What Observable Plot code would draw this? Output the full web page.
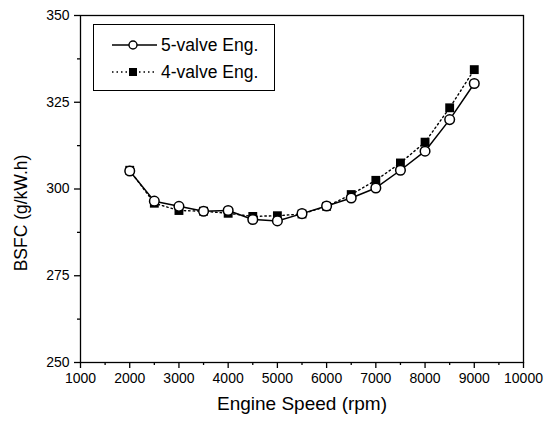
<!DOCTYPE html>
<html>
<head>
<meta charset="utf-8">
<script src="https://cdn.jsdelivr.net/npm/d3@7"></script>
<script src="https://cdn.jsdelivr.net/npm/@observablehq/plot@0.6"></script>
<style>
  html, body { margin: 0; padding: 0; background: #fff; }
  #wrap { position: relative; width: 551px; height: 423px; font-family: "Liberation Sans", Arial, sans-serif; }
  #legend { position: absolute; left: 93px; top: 24px; width: 182px; height: 67px; border: 1.3px solid #000; background: #fff; box-sizing: border-box; }
  .row { position: absolute; left: 0; height: 20px; display: flex; align-items: center; font-size: 17.5px; color: #000; white-space: nowrap; }
  .row svg { margin-left: 18px; margin-right: 4px; }
</style>
</head>
<body>
<div id="wrap"></div>
<script>
const speeds = [2000, 2500, 3000, 3500, 4000, 4500, 5000, 5500, 6000, 6500, 7000, 7500, 8000, 8500, 9000];
const fiveValve = [305.2, 296.5, 295.0, 293.6, 293.8, 291.2, 290.8, 292.9, 295.1, 297.4, 300.3, 305.4, 310.9, 320.0, 330.4];
const fourValve = [305.4, 295.9, 293.8, 293.6, 293.0, 292.1, 292.3, 292.8, 295.0, 298.4, 302.5, 307.5, 313.5, 323.4, 334.4];
const seriesNames = ["5-valve Eng.", "4-valve Eng."];
const xTicks = [1000, 2000, 3000, 4000, 5000, 6000, 7000, 8000, 9000, 10000];
const xMinor = [1500, 2500, 3500, 4500, 5500, 6500, 7500, 8500, 9500];
const yTicks = [250, 275, 300, 325, 350];
const yMinor = [262.5, 287.5, 312.5, 337.5];
const xLabel = "Engine Speed (rpm)";
const yLabel = "BSFC (g/kW.h)";

const d5 = speeds.map((s, i) => ({speed: s, bsfc: fiveValve[i]}));
const d4 = speeds.map((s, i) => ({speed: s, bsfc: fourValve[i]}));

const chart = Plot.plot({
  width: 551,
  height: 423,
  marginLeft: 80,
  marginRight: 28,
  marginTop: 15,
  marginBottom: 61,
  style: {fontFamily: "'Liberation Sans', Arial, sans-serif", fontSize: "14px", color: "#000", background: "#fff"},
  x: {domain: [1000, 10000]},
  y: {domain: [250, 350]},
  marks: [
    Plot.frame({stroke: "#000", strokeWidth: 1.3}),
    Plot.axisX({ticks: xTicks, tickFormat: d => String(d), tickSize: 6, tickPadding: 5, label: null, fontSize: 14, strokeWidth: 1.3}),
    Plot.axisX({ticks: xMinor, tickFormat: () => "", tickSize: 3, label: null, strokeWidth: 1.3}),
    Plot.axisY({ticks: yTicks, tickFormat: d => String(d), tickSize: 6, tickPadding: 5, label: null, fontSize: 14, strokeWidth: 1.3}),
    Plot.axisY({ticks: yMinor, tickFormat: () => "", tickSize: 3, label: null, strokeWidth: 1.3}),
    Plot.text([xLabel], {frameAnchor: "bottom", textAnchor: "middle", dy: 47, fontSize: 19, text: d => d, fill: "#000"}),
    Plot.text([yLabel], {frameAnchor: "left", textAnchor: "middle", dx: -59, dy: 24, rotate: -90, fontSize: 17.5, text: d => d, fill: "#000"}),
    Plot.line(d4, {x: "speed", y: "bsfc", stroke: "#000", strokeWidth: 1.4, strokeDasharray: "1.5,3"}),
    Plot.dot(d4, {x: "speed", y: "bsfc", symbol: "square", r: 5, fill: "#000", stroke: "none"}),
    Plot.line(d5, {x: "speed", y: "bsfc", stroke: "#000", strokeWidth: 1.5}),
    Plot.dot(d5, {x: "speed", y: "bsfc", symbol: "circle", r: 4.8, fill: "#fff", stroke: "#000", strokeWidth: 1.5})
  ]
});

const wrap = document.getElementById("wrap");
wrap.appendChild(chart);

const legend = document.createElement("div");
legend.id = "legend";
legend.innerHTML = `
  <div class="row" style="top:10px">
    <svg width="45" height="12"><line x1="0" y1="6" x2="45" y2="6" stroke="#000" stroke-width="1.5"/><circle cx="21" cy="6" r="4" fill="#fff" stroke="#000" stroke-width="1.4"/></svg>${seriesNames[0]}
  </div>
  <div class="row" style="top:37px">
    <svg width="45" height="12"><line x1="0" y1="6" x2="45" y2="6" stroke="#000" stroke-width="1.4" stroke-dasharray="1.5,3"/><rect x="17" y="2" width="8" height="8" fill="#000"/></svg>${seriesNames[1]}
  </div>`;
wrap.appendChild(legend);
</script>
</body>
</html>
